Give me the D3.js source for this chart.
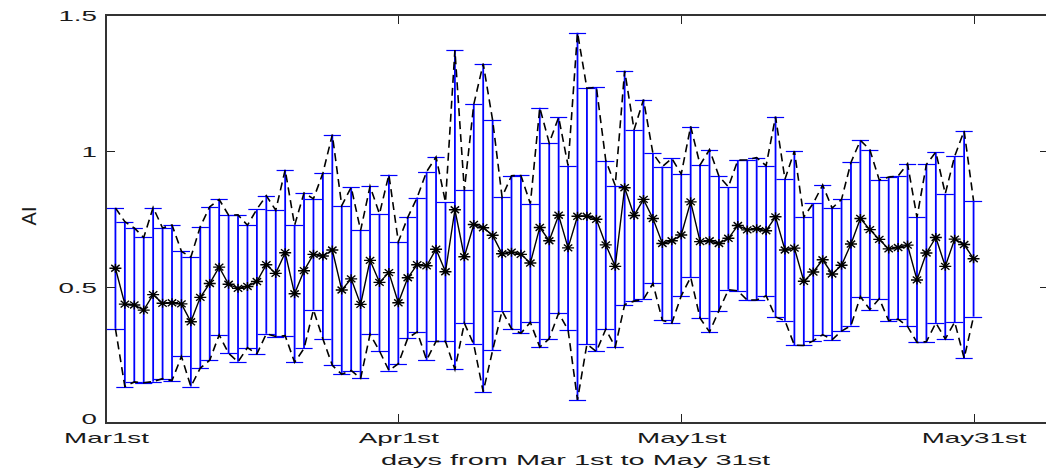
<!DOCTYPE html>
<html>
<head>
<meta charset="utf-8">
<script src="https://cdn.jsdelivr.net/npm/d3@7"></script>
<style>
  html, body { margin: 0; padding: 0; background: #fff; }
  svg { display: block; }
  text { font-family: "Liberation Sans", Arial, Helvetica, sans-serif; fill: #1a1a1a; }
</style>
</head>
<body>
<svg id="chart" width="1046" height="472"></svg>
<script>
// Daily AI statistics, Mar 1st .. May 31st (day index 1..92)
const meanAI = [
  0.569, 0.437, 0.434, 0.415, 0.472, 0.440, 0.442, 0.438, 0.372, 0.462,
  0.513, 0.573, 0.510, 0.495, 0.502, 0.520, 0.582, 0.550, 0.626, 0.475,
  0.560, 0.620, 0.614, 0.636, 0.489, 0.530, 0.436, 0.598, 0.517, 0.553,
  0.442, 0.534, 0.582, 0.578, 0.639, 0.556, 0.784, 0.611, 0.730, 0.718,
  0.690, 0.622, 0.628, 0.620, 0.588, 0.719, 0.670, 0.764, 0.644, 0.760,
  0.760, 0.749, 0.655, 0.576, 0.865, 0.763, 0.822, 0.752, 0.660, 0.670,
  0.691, 0.813, 0.667, 0.670, 0.660, 0.679, 0.726, 0.710, 0.714, 0.707,
  0.758, 0.636, 0.643, 0.521, 0.555, 0.600, 0.548, 0.580, 0.658, 0.752,
  0.711, 0.675, 0.640, 0.645, 0.654, 0.526, 0.625, 0.682, 0.576, 0.676,
  0.656, 0.604
];
const stdAI = [
  0.222, 0.303, 0.283, 0.267, 0.320, 0.277, 0.286, 0.193, 0.238, 0.260,
  0.282, 0.249, 0.254, 0.270, 0.225, 0.266, 0.254, 0.232, 0.305, 0.252,
  0.286, 0.204, 0.305, 0.424, 0.310, 0.337, 0.272, 0.272, 0.252, 0.360,
  0.224, 0.222, 0.247, 0.346, 0.339, 0.256, 0.587, 0.244, 0.441, 0.603,
  0.423, 0.209, 0.281, 0.290, 0.218, 0.440, 0.360, 0.360, 0.302, 0.675,
  0.470, 0.486, 0.310, 0.297, 0.430, 0.315, 0.367, 0.239, 0.283, 0.303,
  0.224, 0.277, 0.282, 0.335, 0.247, 0.189, 0.240, 0.258, 0.262, 0.239,
  0.368, 0.260, 0.357, 0.236, 0.253, 0.275, 0.242, 0.242, 0.300, 0.287,
  0.294, 0.218, 0.264, 0.263, 0.299, 0.230, 0.326, 0.314, 0.267, 0.305,
  0.418, 0.213
];
const dayIndex = d3.range(1, meanAI.length + 1);

const xTickValues = [0, 31, 61, 92];
const xTickLabels = ["Mar1st", "Apr1st", "May1st", "May31st"];
const yTickValues = [0, 0.5, 1, 1.5];
const xLabel = "days from Mar 1st to May 31st";
const yLabel = "AI";

// ---- layout ----
const plot = { left: 106, right: 1049, top: 15, bottom: 423 };
const textStretch = 1.85;   // wide glyphs of the figure's text

const svg = d3.select("#chart");
const x = d3.scaleLinear().domain([0, 100]).range([plot.left, plot.right]);
const y = d3.scaleLinear().domain([0, 1.5]).range([plot.bottom, plot.top]);

const rows = dayIndex.map((d, i) => ({
  d, m: meanAI[i], lo: meanAI[i] - stdAI[i], hi: meanAI[i] + stdAI[i]
}));

// ---- error bars (blue): stems are drawn wider than the caps ----
const blue = "#0000ff";
const tee = (d3.max(dayIndex) - d3.min(dayIndex)) / 100;
const bars = svg.append("g").attr("fill", "none");
bars.selectAll("line.stem").data(rows).join("line").attr("class", "stem")
  .attr("x1", r => x(r.d)).attr("x2", r => x(r.d))
  .attr("y1", r => y(r.lo)).attr("y2", r => y(r.hi))
  .attr("stroke", blue).attr("stroke-width", 1.8);
["hi", "lo"].forEach(k => {
  bars.selectAll(`line.cap-${k}`).data(rows).join("line").attr("class", `cap-${k}`)
    .attr("x1", r => x(r.d - tee)).attr("x2", r => x(r.d + tee))
    .attr("y1", r => Math.round(y(r[k])) + 0.5).attr("y2", r => Math.round(y(r[k])) + 0.5)
    .attr("stroke", blue).attr("stroke-width", 1.2);
});

// ---- mean ± std envelopes (dashed black) ----
const seriesLine = key => d3.line().x(r => x(r.d)).y(r => y(r[key]));
["hi", "lo"].forEach(k => {
  svg.append("path").datum(rows)
    .attr("d", seriesLine(k))
    .attr("fill", "none").attr("stroke", "#000")
    .attr("stroke-width", 1.6).attr("stroke-dasharray", "8,5");
});

// ---- mean line with asterisk markers ----
svg.append("path").datum(rows)
  .attr("d", seriesLine("m"))
  .attr("fill", "none").attr("stroke", "#000").attr("stroke-width", 1.4);

const star = (cx, cy) => {
  const a = 6, b = 4.5, c = 4.2, e = 3.4;
  return `M${cx - a},${cy}H${cx + a}M${cx},${cy - b}V${cy + b}` +
         `M${cx - c},${cy - e}L${cx + c},${cy + e}M${cx - c},${cy + e}L${cx + c},${cy - e}`;
};
svg.append("g").selectAll("path").data(rows).join("path")
  .attr("d", r => star(x(r.d), y(r.m)))
  .attr("stroke", "#000").attr("stroke-width", 1.4).attr("fill", "none");

// ---- axes box and ticks ----
const tickLen = 9;
const axisG = svg.append("g");

const bottom = axisG.append("g").attr("transform", `translate(0,${plot.bottom})`)
  .call(d3.axisBottom(x).tickValues(xTickValues)
    .tickFormat((v, i) => xTickLabels[i]).tickSizeInner(-tickLen).tickSizeOuter(0).tickPadding(0));
bottom.selectAll("text")
  .attr("y", 0).attr("dy", 0)
  .attr("transform", `translate(0,20) scale(${textStretch},1)`)
  .style("font-size", "15px");

axisG.append("g").attr("transform", `translate(0,${plot.top})`)
  .call(d3.axisTop(x).tickValues(xTickValues).tickFormat("").tickSizeInner(-tickLen).tickSizeOuter(0));

const left = axisG.append("g").attr("transform", `translate(${plot.left},0)`)
  .call(d3.axisLeft(y).tickValues(yTickValues).tickFormat(d3.format("")).tickSizeInner(-tickLen).tickSizeOuter(0).tickPadding(0));
left.selectAll("text")
  .attr("x", 0).attr("dy", "0.35em")
  .attr("transform", v => `translate(-9,${v === 0 ? -5 : 0}) scale(${textStretch},1)`)
  .style("font-size", "15px");

axisG.append("g").attr("transform", `translate(${plot.right},0)`)
  .call(d3.axisRight(y).tickValues(yTickValues).tickFormat("").tickSizeInner(-tickLen).tickSizeOuter(0));

axisG.selectAll(".domain").remove();
axisG.selectAll(".tick line").attr("stroke", "#222").attr("shape-rendering", "crispEdges");
axisG.selectAll(".tick text").attr("fill", "#1a1a1a").style("font-family", null);

svg.append("rect")
  .attr("x", plot.left).attr("y", plot.top)
  .attr("width", plot.right - plot.left).attr("height", plot.bottom - plot.top)
  .attr("fill", "none").attr("stroke", "#333").attr("stroke-width", 1.2)
  .attr("shape-rendering", "crispEdges");

// ---- axis titles ----
svg.append("text")
  .attr("text-anchor", "middle")
  .attr("transform", `translate(${(plot.left + plot.right) / 2 - 2},465) scale(1.93,1)`)
  .style("font-size", "15px")
  .text(xLabel);

svg.append("text")
  .attr("text-anchor", "middle")
  .attr("transform", `translate(36,${(plot.top + plot.bottom) / 2 - 3}) rotate(-90)`)
  .style("font-size", "20px")
  .text(yLabel);
</script>
</body>
</html>
